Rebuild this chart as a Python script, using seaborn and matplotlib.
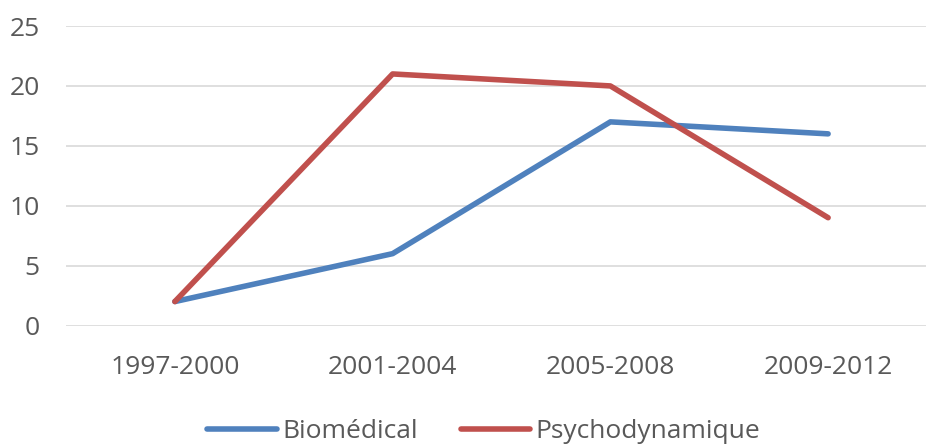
import matplotlib
matplotlib.use("Agg")
import matplotlib.pyplot as plt
import seaborn as sns
import pandas as pd

periods = ["1997-2000", "2001-2004", "2005-2008", "2009-2012"]
biomedical = [2, 6, 17, 16]
psychodynamique = [2, 21, 20, 9]

df = pd.DataFrame({
    "period": periods * 2,
    "value": biomedical + psychodynamique,
    "serie": ["Biomédical"] * 4 + ["Psychodynamique"] * 4,
})

sns.set_style("white")
plt.rcParams["font.family"] = ["Open Sans", "DejaVu Sans"]

fig = plt.figure(figsize=(9.26, 4.45), dpi=100)
ax = fig.add_axes([66 / 926, 0.2685, 871 / 926, 0.673])

sns.lineplot(data=df, x="period", y="value", hue="serie", sort=False,
             palette={"Biomédical": "#4F81BD", "Psychodynamique": "#C0504D"},
             linewidth=4.0, ax=ax, legend=False)
for line in ax.lines:
    line.set_solid_capstyle("round")
    line.set_solid_joinstyle("round")

ax.set_xlim(-0.5, 3.5)
ax.set_ylim(0, 25)
ax.set_yticks([0, 5, 10, 15, 20, 25])
ax.yaxis.grid(True, color="#d9d9d9", linewidth=1.2)
ax.set_axisbelow(True)
sns.despine(ax=ax, left=True, bottom=True, top=True, right=True)
ax.tick_params(axis="both", length=0, labelsize=19, colors="#595959")
ax.tick_params(axis="y", pad=19)
ax.tick_params(axis="x", pad=21)
ax.set_xlabel("")
ax.set_ylabel("")

handles = [plt.Line2D([], [], color="#4F81BD", lw=4.0, solid_capstyle="round"),
           plt.Line2D([], [], color="#C0504D", lw=4.0, solid_capstyle="round")]
fig.legend(handles, ["Biomédical", "Psychodynamique"], loc="center",
           bbox_to_anchor=(484 / 926, 0.03), ncol=2, frameon=False,
           fontsize=19, labelcolor="#595959", handlelength=2.65,
           handletextpad=0.2, columnspacing=1.6)

fig.savefig("out.png", dpi=100)
